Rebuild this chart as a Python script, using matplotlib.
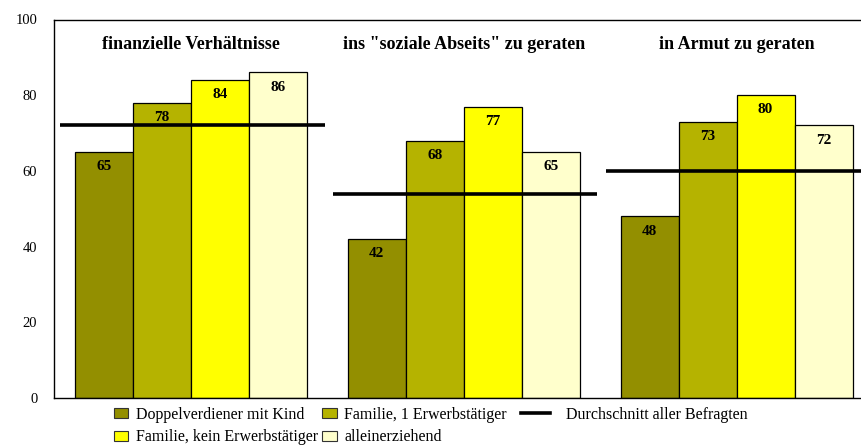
import matplotlib.pyplot as plt
from matplotlib.patches import Patch
from matplotlib.lines import Line2D
import numpy as np

plt.rcParams['font.family'] = ['Liberation Serif', 'DejaVu Serif']

# Daten
kategorien = ['finanzielle Verhältnisse', 'ins "soziale Abseits" zu geraten', 'in Armut zu geraten']
gruppen = ['Doppelverdiener mit Kind', 'Familie, 1 Erwerbstätiger',
           'Familie, kein Erwerbstätiger', 'alleinerziehend']
doppelverdiener = [65, 42, 48]
familie_1 = [78, 68, 73]
familie_kein = [84, 77, 80]
alleinerziehend = [86, 65, 72]
durchschnitt = [72, 54, 60]
y_ticks = [0, 20, 40, 60, 80, 100]

farben = ['#938f00', '#b5b300', '#ffff00', '#ffffcc']

fig = plt.figure(figsize=(8.61, 4.45), dpi=100)
ax = fig.add_axes([54/861, 1 - 398/445, (873 - 54)/861, (398 - 19.5)/445])

x = np.arange(len(kategorien))
w = 0.2125
werte = [doppelverdiener, familie_1, familie_kein, alleinerziehend]
for i, (vals, col) in enumerate(zip(werte, farben)):
    pos = x + (i - 1.5) * w
    ax.bar(pos, vals, width=w, color=col, edgecolor='black', linewidth=0.9, zorder=2)
    for p, v in zip(pos, vals):
        ax.text(p, v - 3.9, str(v), ha='center', va='center', fontsize=11,
                fontweight='bold', zorder=4)

for xi, d in zip(x, durchschnitt):
    ax.hlines(d, xi - 0.48, xi + 0.49, color='black', linewidth=2.6, zorder=3)

for xi, k in zip(x, kategorien):
    ax.text(xi, 93.4, k, ha='center', va='center', fontsize=13, fontweight='bold')

ax.set_xlim(-0.502, 2.5)
ax.set_ylim(0, 100)
ax.set_yticks(y_ticks)
ax.set_xticks([])
ax.tick_params(axis='y', length=0, pad=12, labelsize=10.5)
for s in ax.spines.values():
    s.set_color('black')
    s.set_linewidth(1.0)

handles = [Patch(facecolor=c, edgecolor='#333333', linewidth=0.8) for c in farben]
# Reihenfolge so, dass die Legende zeilenweise gelesen wird
leg1 = fig.legend([handles[0], handles[2], handles[1], handles[3]],
                  [gruppen[0], gruppen[2], gruppen[1], gruppen[3]],
                  ncol=2, loc='upper left', bbox_to_anchor=(114/861, 1 - 407/445),
                  frameon=False, fontsize=11.5, handlelength=0.9, handleheight=0.6,
                  handletextpad=0.45, columnspacing=0.3, labelspacing=0.4,
                  borderpad=0, borderaxespad=0)
leg2 = fig.legend([Line2D([], [], color='black', linewidth=2.6)],
                  ['Durchschnitt aller Befragten'],
                  loc='upper left', bbox_to_anchor=(521/861, 1 - 407/445),
                  frameon=False, fontsize=11.5, handlelength=1.8, handletextpad=1.0,
                  borderpad=0, borderaxespad=0)

fig.savefig('out.png', dpi=100)
